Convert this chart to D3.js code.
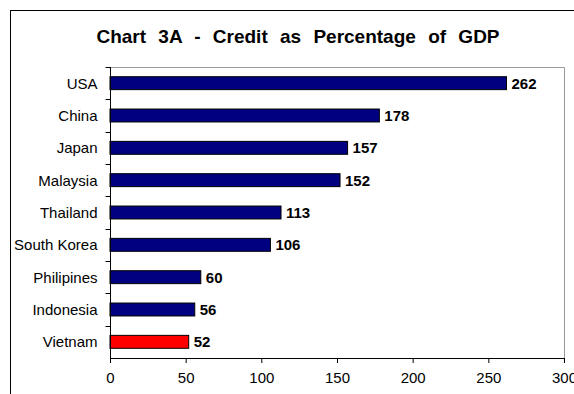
<!DOCTYPE html>
<html>
<head>
<meta charset="utf-8">
<script src="https://cdn.jsdelivr.net/npm/d3@7"></script>
<style>
  body { margin: 0; background: #fff; }
  text { font-family: "Liberation Sans", Arial, sans-serif; }
</style>
</head>
<body>
<div id="chart"></div>
<script>
const countries = ["USA", "China", "Japan", "Malaysia", "Thailand", "South Korea", "Philipines", "Indonesia", "Vietnam"]
const credit = [262, 178, 157, 152, 113, 106, 60, 56, 52]
const xTicks = [0, 50, 100, 150, 200, 250, 300]
const highlight = "Vietnam"

const W = 574, H = 394
const M = { TOP: 67, BOTTOM: 36, LEFT: 110, RIGHT: 10 }

const svg = d3.select("#chart").append("svg")
    .attr("width", W)
    .attr("height", H)

// outer chart border, runs off the right and bottom edge
svg.append("rect")
    .attr("x", 10.5).attr("y", 10.5)
    .attr("width", 700).attr("height", 500)
    .attr("fill", "none")
    .attr("stroke", "#000")

svg.append("text")
    .attr("x", 298).attr("y", 43)
    .attr("text-anchor", "middle")
    .attr("font-size", 19)
    .attr("font-weight", "bold")
    .attr("word-spacing", 7)
    .text("Chart 3A - Credit as Percentage of GDP")

const x = d3.scaleLinear().domain([0, 300]).range([M.LEFT, W - M.RIGHT])
const y = d3.scaleBand().domain(countries).range([M.TOP, H - M.BOTTOM]).paddingInner(0.6).paddingOuter(0.3)
const band = d3.scaleBand().domain(countries).range([M.TOP, H - M.BOTTOM])

// plot area frame (grey top + right)
svg.append("path")
    .attr("d", `M${M.LEFT},${M.TOP + 0.5}H${W - M.RIGHT + 0.5}V${H - M.BOTTOM}`)
    .attr("fill", "none")
    .attr("stroke", "#999")

const data = countries.map((c, i) => ({ name: c, value: credit[i] }))

svg.selectAll(".bar")
    .data(data)
    .enter()
    .append("rect")
    .attr("class", "bar")
    .attr("x", x(0))
    .attr("y", d => y(d.name))
    .attr("width", d => x(d.value) - x(0))
    .attr("height", y.bandwidth())
    .attr("fill", d => d.name === highlight ? "#ff0000" : "#000080")
    .attr("stroke", "#000")
    .attr("stroke-width", 1)

svg.selectAll(".val")
    .data(data)
    .enter()
    .append("text")
    .attr("class", "val")
    .attr("x", d => x(d.value) + 5)
    .attr("y", d => y(d.name) + y.bandwidth() / 2)
    .attr("dy", "0.36em")
    .attr("font-size", 15)
    .attr("font-weight", "bold")
    .text(d => d.value)

// y axis: ticks between categories
const yAxis = svg.append("g").attr("transform", `translate(${M.LEFT + 0.5},0)`)
yAxis.append("line")
    .attr("y1", M.TOP).attr("y2", H - M.BOTTOM)
    .attr("stroke", "#000")
yAxis.selectAll(".yt")
    .data(countries)
    .enter()
    .append("line")
    .attr("x1", -5).attr("x2", 0)
    .attr("y1", d => Math.round(band(d)) + 0.5)
    .attr("y2", d => Math.round(band(d)) + 0.5)
    .attr("stroke", "#000")
yAxis.selectAll(".yl")
    .data(countries)
    .enter()
    .append("text")
    .attr("x", -13)
    .attr("y", d => band(d) + band.bandwidth() / 2)
    .attr("dy", "0.36em")
    .attr("text-anchor", "end")
    .attr("font-size", 15)
    .text(d => d)

const xAxis = svg.append("g")
    .attr("transform", `translate(0,${H - M.BOTTOM})`)
    .call(d3.axisBottom(x).tickValues(xTicks).tickSize(5).tickPadding(9).tickFormat(d3.format("d")))
xAxis.select(".domain").attr("stroke", "#000")
xAxis.selectAll("text").attr("font-size", 15).attr("font-family", "Liberation Sans, Arial, sans-serif")
</script>
</body>
</html>
